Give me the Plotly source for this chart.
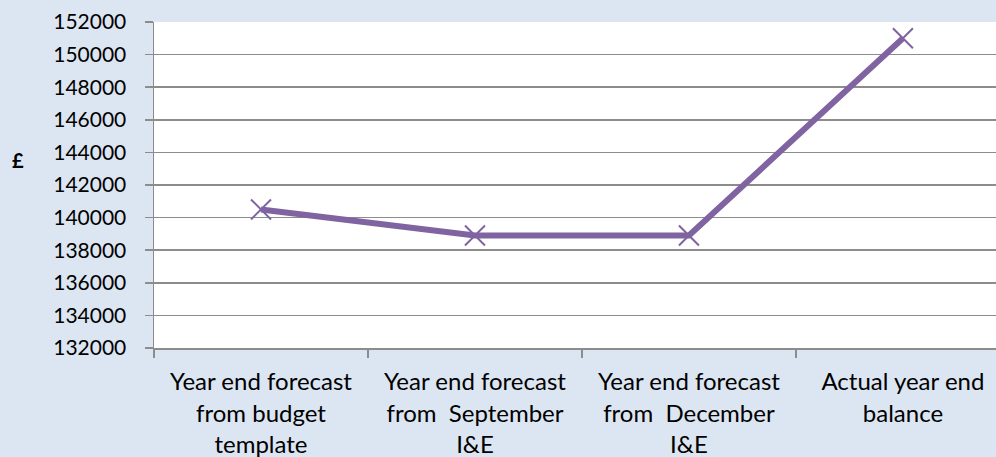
import plotly.graph_objects as go

categories = [
    "Year end forecast<br>from budget<br>template",
    "Year end forecast<br>from  September<br>I&E",
    "Year end forecast<br>from  December<br>I&E",
    "Actual year end<br>balance",
]
values = [140500, 138900, 138900, 151000]
y_ticks = list(range(132000, 152001, 2000))

font_family = "Lato, 'Open Sans', sans-serif"
purple = "#8064A2"
grid = "#8C8C8C"

W, H = 996, 457
ML, MR, MT, MB = 154, 0, 22, 109

fig = go.Figure()
fig.add_trace(go.Scatter(
    x=categories, y=values, mode="lines+markers",
    line=dict(color=purple, width=6),
    marker=dict(symbol="x-thin", size=20, line=dict(color=purple, width=2), color=purple),
    hoverinfo="skip",
))

fig.update_layout(
    width=W, height=H,
    margin=dict(l=ML, r=MR, t=MT, b=MB),
    paper_bgcolor="#DCE6F2",
    plot_bgcolor="#FFFFFF",
    showlegend=False,
    font=dict(family=font_family, size=21, color="#000000"),
    xaxis=dict(
        type="category",
        range=[-0.5, 3.435],
        tickson="boundaries",
        ticks="outside", ticklen=8, tickcolor=grid, tickwidth=1.5,
        showline=True, linecolor=grid, linewidth=1.5,
        showgrid=False,
        tickfont=dict(size=24),
        ticklabelstandoff=12,
    ),
    yaxis=dict(
        range=[132000, 152000],
        tickvals=y_ticks,
        ticktext=[str(v) for v in y_ticks],
        ticks="outside", ticklen=8, tickcolor=grid, tickwidth=1.5,
        showline=True, linecolor=grid, linewidth=1.5,
        showgrid=True, gridcolor=grid, gridwidth=1.5,
        zeroline=False,
        tickfont=dict(size=21),
        ticklabelstandoff=14,
    ),
    annotations=[dict(
        text="<b>£</b>",
        x=(18 - ML) / (W - ML - MR), y=(H - MB - 160) / (H - MB - MT),
        xref="paper", yref="paper", xanchor="center", yanchor="middle",
        showarrow=False, font=dict(size=20),
    )],
)

fig.write_html(
    "out.html",
    config={"displayModeBar": False, "staticPlot": True},
    post_script="document.body.style.margin='0';document.body.style.overflow='hidden';",
)
